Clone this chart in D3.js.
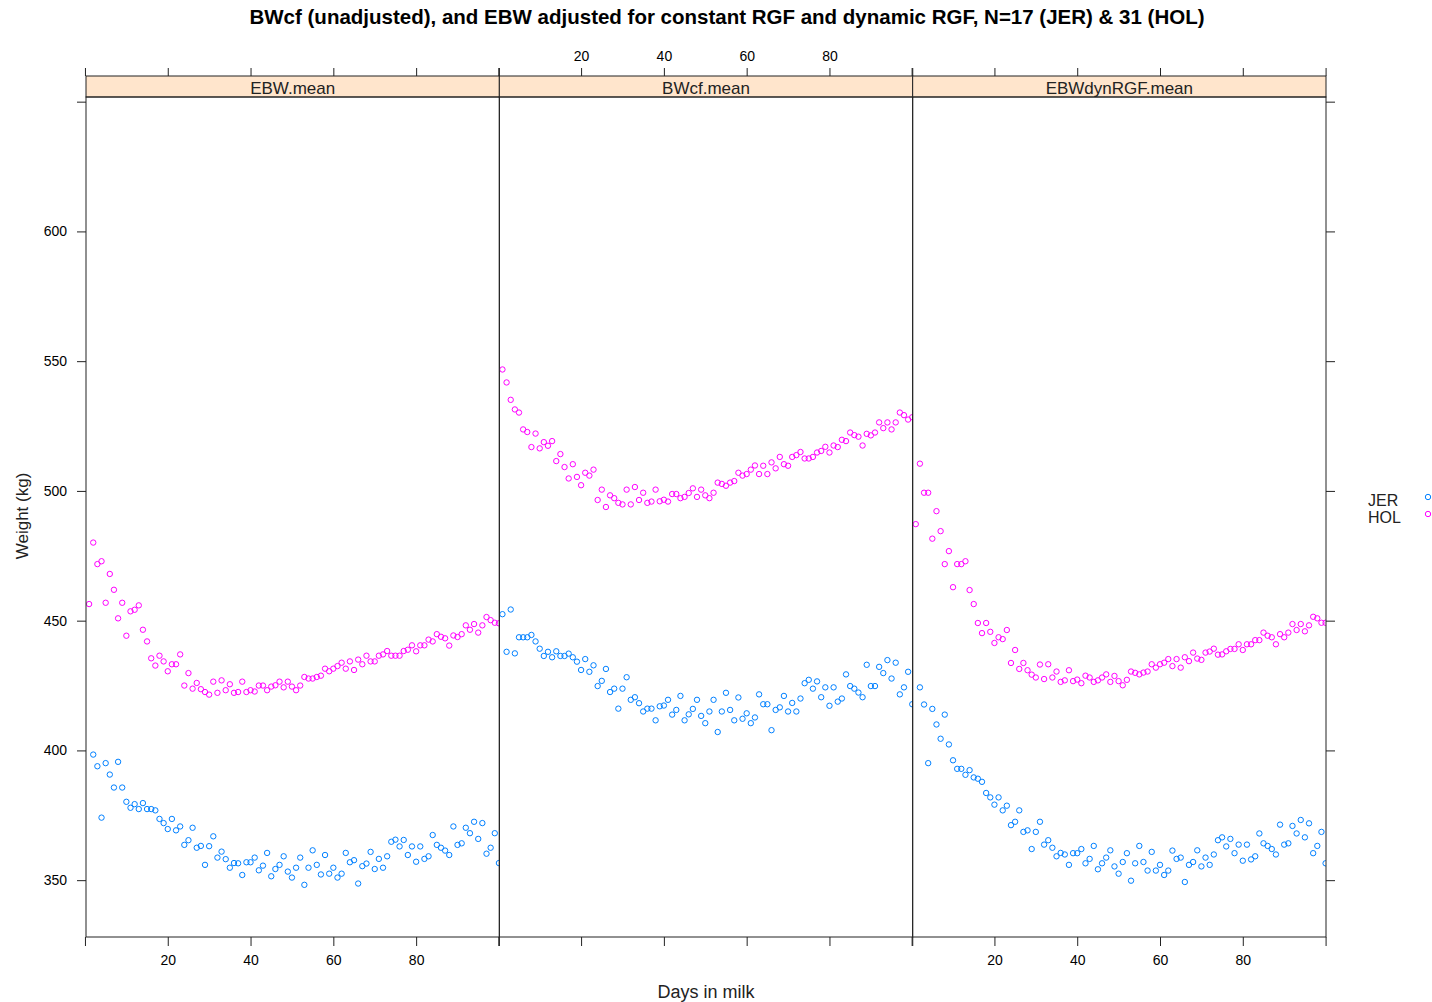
<!DOCTYPE html>
<html>
<head>
<meta charset="utf-8">
<script src="https://cdn.jsdelivr.net/npm/d3@7"></script>
<style>
  body { margin: 0; background: #fff; }
  svg { display: block; font-family: "Liberation Sans", Arial, sans-serif; }
</style>
</head>
<body>
<svg width="1432" height="1002"></svg>
<script>
// days in milk
var days = [1, 2, 3, 4, 5, 6, 7, 8, 9, 10, 11, 12, 13, 14, 15, 16, 17, 18, 19, 20,
    21, 22, 23, 24, 25, 26, 27, 28, 29, 30, 31, 32, 33, 34, 35, 36, 37, 38, 39, 40,
    41, 42, 43, 44, 45, 46, 47, 48, 49, 50, 51, 52, 53, 54, 55, 56, 57, 58, 59, 60,
    61, 62, 63, 64, 65, 66, 67, 68, 69, 70, 71, 72, 73, 74, 75, 76, 77, 78, 79, 80,
    81, 82, 83, 84, 85, 86, 87, 88, 89, 90, 91, 92, 93, 94, 95, 96, 97, 98, 99, 100]

var panelNames = ["EBW.mean", "BWcf.mean", "EBWdynRGF.mean"]
var breeds = ["JER", "HOL"]

var ebwJER = [null, 398.4, 393.9, 374.1, 395.1, 390.7, 385.7, 395.6, 385.7, 380.2,
    377.9, 379.3, 377.4, 379.7, 377.4, 377.4, 376.9, 373.6, 372.0, 369.7,
    373.6, 369.2, 370.7, 363.6, 365.4, 370.2, 362.5, 363.2, 355.9, 363.1,
    366.9, 358.7, 361.0, 358.1, 354.8, 356.6, 356.5, 352.0, 356.9, 356.9,
    358.7, 353.8, 355.6, 360.5, 351.5, 354.3, 355.9, 359.2, 353.3, 351.0,
    354.8, 358.7, 348.2, 354.8, 361.5, 355.9, 352.2, 359.7, 352.5, 354.8,
    351.0, 352.5, 360.5, 356.9, 357.7, 348.7, 355.4, 356.4, 360.9, 354.3,
    358.2, 354.8, 359.2, 364.8, 365.6, 363.0, 365.5, 359.7, 363.0, 357.1,
    363.0, 358.2, 359.2, 367.4, 363.6, 362.5, 361.4, 359.7, 370.7, 363.6,
    364.2, 370.2, 368.1, 372.5, 365.9, 372.0, 360.2, 362.5, 368.1, 356.6]
var ebwHOL = [456.4, 480.1, 471.8, 472.9, 456.9, 468.0, 461.9, 450.9, 456.9, 444.2,
    453.6, 454.2, 455.9, 446.5, 442.0, 435.5, 432.7, 436.5, 434.3, 430.5,
    433.2, 433.2, 437.0, 425.0, 429.8, 423.8, 426.0, 423.6, 422.5, 421.5,
    426.5, 422.2, 427.0, 423.2, 425.5, 422.2, 422.5, 426.5, 422.5, 423.2,
    422.7, 425.0, 425.0, 423.2, 424.6, 425.1, 426.5, 424.3, 426.5, 424.6,
    423.2, 425.0, 428.3, 427.7, 427.7, 428.3, 428.8, 431.5, 430.5, 431.5,
    432.5, 433.8, 431.5, 434.3, 431.0, 435.0, 433.2, 436.5, 434.3, 434.3,
    436.5, 437.0, 438.3, 436.5, 436.5, 436.5, 438.3, 438.8, 440.5, 438.2,
    440.5, 440.5, 442.7, 442.0, 444.8, 443.8, 443.2, 440.4, 444.3, 443.7,
    444.8, 448.2, 446.5, 448.7, 445.4, 448.2, 451.4, 450.2, 449.2, 449.0]

var bwcfJER = [452.5, 438.0, 454.3, 437.4, 443.6, 443.6, 443.6, 444.5, 442.0, 439.2,
    436.4, 438.0, 435.9, 438.2, 436.4, 436.4, 437.3, 435.9, 434.2, 431.0,
    435.2, 430.3, 432.8, 424.8, 426.8, 431.4, 422.5, 423.8, 416.1, 423.8,
    428.2, 419.5, 420.5, 418.2, 415.0, 416.1, 416.1, 411.6, 417.0, 417.3,
    419.5, 413.8, 415.6, 421.0, 411.6, 413.9, 416.0, 419.5, 413.3, 410.5,
    415.0, 419.5, 407.1, 415.0, 422.2, 415.6, 411.6, 420.4, 412.2, 414.3,
    410.5, 412.7, 421.6, 417.8, 417.8, 407.8, 415.6, 416.6, 421.0, 415.0,
    418.3, 415.0, 420.0, 425.9, 427.2, 423.8, 426.6, 420.5, 424.3, 417.2,
    424.3, 418.8, 420.0, 429.3, 424.8, 423.8, 422.3, 420.5, 433.0, 424.8,
    424.8, 432.2, 429.8, 434.8, 427.7, 433.8, 421.6, 424.3, 430.3, 417.8]
var bwcfHOL = [546.8, 541.8, 535.1, 531.4, 530.2, 523.7, 522.7, 516.9, 522.1, 516.4,
    518.8, 517.4, 519.2, 511.5, 514.2, 509.2, 504.8, 510.3, 505.4, 502.2,
    507.0, 505.9, 508.2, 496.5, 500.5, 493.8, 498.3, 497.2, 495.4, 494.8,
    500.5, 494.8, 501.5, 496.5, 499.3, 495.4, 495.9, 500.5, 496.0, 496.6,
    495.9, 498.8, 498.8, 497.2, 497.7, 499.2, 501.0, 497.7, 500.5, 498.3,
    497.2, 499.3, 503.2, 502.7, 502.0, 503.2, 503.8, 507.0, 505.9, 506.5,
    508.2, 509.8, 506.5, 509.7, 506.5, 511.0, 508.7, 513.1, 510.3, 509.7,
    513.1, 513.8, 515.0, 512.5, 512.5, 513.1, 514.8, 515.4, 517.0, 514.8,
    517.5, 516.9, 519.7, 519.2, 522.5, 521.5, 520.9, 517.5, 522.0, 521.4,
    522.5, 526.4, 524.2, 526.4, 523.7, 526.4, 530.2, 529.2, 527.5, 528.4]

var dynJER = [null, 424.3, 417.7, 395.1, 416.0, 410.0, 404.5, 413.8, 402.3, 396.2,
    392.9, 392.9, 390.6, 392.4, 389.6, 389.1, 387.9, 383.6, 381.9, 379.1,
    381.9, 376.9, 378.7, 371.2, 372.5, 376.9, 368.6, 369.2, 362.0, 368.6,
    372.5, 363.7, 365.4, 362.5, 359.2, 360.5, 359.9, 355.9, 360.4, 360.4,
    362.0, 356.5, 358.2, 363.2, 354.2, 356.5, 358.7, 361.5, 355.3, 352.5,
    357.0, 360.4, 349.8, 356.5, 363.2, 357.0, 353.7, 360.9, 353.7, 355.9,
    352.0, 353.7, 361.4, 358.2, 358.7, 349.3, 355.9, 357.0, 361.5, 355.3,
    358.7, 355.9, 359.9, 365.4, 366.5, 363.0, 365.9, 360.4, 363.7, 357.5,
    363.7, 358.0, 359.2, 368.0, 364.2, 363.2, 362.0, 359.9, 371.4, 363.7,
    364.2, 370.9, 368.0, 373.2, 366.5, 371.9, 360.4, 363.2, 368.6, 356.5]
var dynHOL = [487.2, 510.5, 499.3, 499.3, 481.6, 492.2, 484.5, 471.8, 476.8, 462.9,
    471.8, 471.8, 472.9, 461.8, 456.4, 449.1, 445.2, 449.1, 445.7, 441.4,
    443.6, 442.9, 446.4, 433.7, 438.7, 431.4, 433.7, 430.9, 429.2, 428.1,
    433.1, 427.5, 433.2, 428.1, 430.4, 426.4, 427.0, 430.9, 426.7, 427.3,
    425.9, 428.8, 428.1, 426.4, 427.0, 428.1, 429.3, 426.4, 428.7, 426.7,
    425.1, 427.2, 430.4, 429.9, 429.3, 430.0, 430.4, 433.2, 431.9, 433.2,
    433.8, 435.2, 432.5, 435.2, 431.9, 435.9, 434.4, 437.7, 435.4, 434.9,
    437.7, 438.1, 439.2, 436.9, 437.0, 438.2, 439.1, 439.1, 440.9, 438.7,
    440.9, 440.9, 442.5, 442.5, 445.4, 444.2, 443.6, 440.9, 444.8, 443.6,
    445.4, 448.7, 446.4, 448.7, 445.9, 448.2, 451.5, 450.9, 449.2, 449.2]

var xTicks = [0, 20, 40, 60, 80, 100]
var yTicks = [350, 400, 450, 500, 550, 600, 650]

var panelSeries = [[ebwJER, ebwHOL], [bwcfJER, bwcfHOL], [dynJER, dynHOL]]
var colors = {JER: "#0080ff", HOL: "#ff00ff"}

var svg = d3.select("svg"),
    plotLeft = 86,
    plotRight = 1326,
    plotTop = 97,
    plotBottom = 937,
    stripTop = 76,
    panelW = (plotRight - plotLeft) / 3,
    ink = "#222";

var xScale = d3.scaleLinear().domain([0.25, 100.1]).range([0, panelW]),
    yScale = d3.scaleLinear().domain([328.1, 651.8]).range([plotBottom, plotTop]);

function xLabel(d) {
    return (d > 0 && d < 100) ? d : "";
}

function noLabel() {
    return "";
}

function styleAxis(g) {
    g.select(".domain").remove();
    g.selectAll("line").attr("stroke", ink);
    g.selectAll("text").attr("fill", "#000").style("font-size", "14px")
        .style("font-family", "'Liberation Sans', Arial, sans-serif");
}

svg.append("defs").selectAll("clipPath")
    .data(panelNames)
    .enter().append("clipPath")
    .attr("id", function (d, i) { return "clip" + i; })
    .append("rect")
    .attr("x", 0).attr("y", plotTop)
    .attr("width", panelW).attr("height", plotBottom - plotTop);

panelNames.forEach(function (name, i) {
    var g = svg.append("g")
        .attr("transform", "translate(" + (plotLeft + i * panelW) + ",0)");

    // top ticks (labels only on the middle panel)
    g.append("g")
        .attr("transform", "translate(0," + stripTop + ")")
        .call(d3.axisTop(xScale).tickValues(xTicks).tickSize(8).tickPadding(7)
            .tickFormat(i === 1 ? xLabel : noLabel))
        .call(styleAxis);

    // bottom ticks (labels on the outer panels)
    g.append("g")
        .attr("transform", "translate(0," + plotBottom + ")")
        .call(d3.axisBottom(xScale).tickValues(xTicks).tickSize(9).tickPadding(9)
            .tickFormat(i === 1 ? noLabel : xLabel))
        .call(styleAxis);

    // strip
    g.append("rect")
        .attr("x", 0).attr("y", stripTop)
        .attr("width", panelW).attr("height", plotTop - stripTop)
        .attr("fill", "#ffe5cc")
        .attr("stroke", ink);
    g.append("text")
        .attr("x", panelW / 2)
        .attr("y", plotTop - 3.5)
        .attr("text-anchor", "middle")
        .style("font-size", "17px")
        .attr("fill", "#222")
        .text(name);

    // points
    var pts = g.append("g").attr("clip-path", "url(#clip" + i + ")");
    breeds.forEach(function (breed, k) {
        var vals = panelSeries[i][k];
        pts.selectAll(".pt-" + breed)
            .data(days.filter(function (d, j) { return vals[j] != null; }))
            .enter().append("circle")
            .attr("class", "pt-" + breed)
            .attr("cx", function (d) { return xScale(d); })
            .attr("cy", function (d) { return yScale(vals[days.indexOf(d)]); })
            .attr("r", 2.7)
            .attr("fill", "none")
            .attr("stroke", colors[breed])
            .attr("stroke-width", 1);
    });

    // panel frame
    g.append("rect")
        .attr("x", 0).attr("y", plotTop)
        .attr("width", panelW).attr("height", plotBottom - plotTop)
        .attr("fill", "none")
        .attr("stroke", ink);
});

// y axes
svg.append("g")
    .attr("transform", "translate(" + plotLeft + ",0)")
    .call(d3.axisLeft(yScale).tickValues(yTicks).tickSize(9).tickPadding(10)
        .tickFormat(function (d) { return d < 650 ? d : ""; }))
    .call(styleAxis);

svg.append("g")
    .attr("transform", "translate(" + plotRight + ",0)")
    .call(d3.axisRight(yScale).tickValues(yTicks).tickSize(9).tickFormat(noLabel))
    .call(styleAxis);

// title and axis titles
svg.append("text")
    .attr("x", 727).attr("y", 24)
    .attr("text-anchor", "middle")
    .style("font-size", "20.5px")
    .style("font-weight", "bold")
    .text("BWcf (unadjusted), and EBW adjusted for constant RGF and dynamic RGF, N=17 (JER) & 31 (HOL)");

svg.append("text")
    .attr("x", plotLeft + (plotRight - plotLeft) / 2).attr("y", 998)
    .attr("text-anchor", "middle")
    .style("font-size", "18px")
    .attr("fill", "#222")
    .text("Days in milk");

svg.append("text")
    .attr("transform", "translate(28,516) rotate(-90)")
    .attr("text-anchor", "middle")
    .style("font-size", "17px")
    .attr("fill", "#222")
    .text("Weight (kg)");

// legend
var legend = svg.append("g");
breeds.forEach(function (breed, k) {
    legend.append("text")
        .attr("x", 1368).attr("y", 506 + k * 17)
        .style("font-size", "16px")
        .attr("fill", "#222")
        .text(breed);
    legend.append("circle")
        .attr("cx", 1428).attr("cy", 497 + k * 17)
        .attr("r", 2.7)
        .attr("fill", "none")
        .attr("stroke", colors[breed]);
});
</script>
</body>
</html>
